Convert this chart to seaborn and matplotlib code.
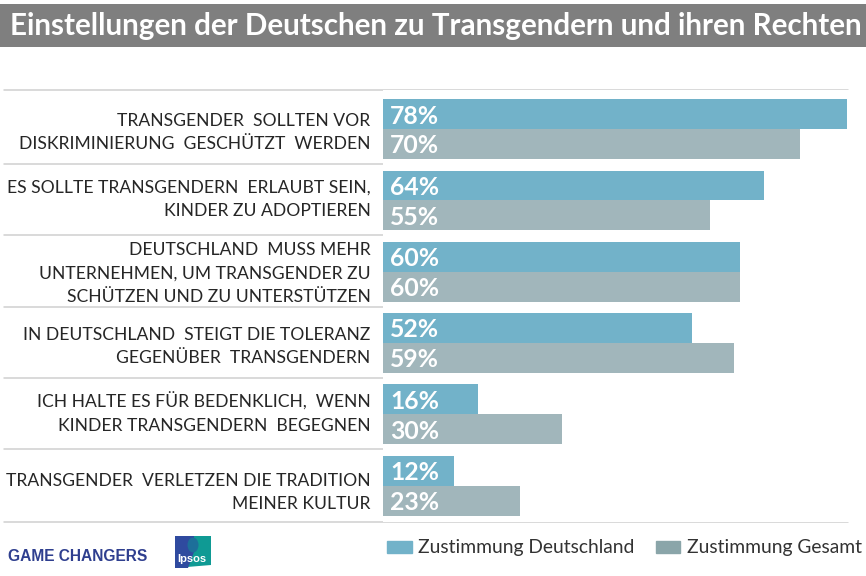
import matplotlib
matplotlib.use('Agg')
import matplotlib.pyplot as plt
import pandas as pd
import seaborn as sns
from matplotlib.patches import Ellipse, Patch, Polygon, Rectangle
from matplotlib.transforms import ScaledTranslation

W, H = 866, 576

title = 'Einstellungen der Deutschen zu Transgendern und ihren Rechten'
statements = [
    'TRANSGENDER  SOLLTEN VOR\nDISKRIMINIERUNG  GESCHÜTZT  WERDEN',
    'ES SOLLTE TRANSGENDERN  ERLAUBT SEIN,\nKINDER ZU ADOPTIEREN',
    'DEUTSCHLAND  MUSS MEHR\nUNTERNEHMEN, UM TRANSGENDER ZU\nSCHÜTZEN UND ZU UNTERSTÜTZEN',
    'IN DEUTSCHLAND  STEIGT DIE TOLERANZ\nGEGENÜBER  TRANSGENDERN',
    'ICH HALTE ES FÜR BEDENKLICH,  WENN\nKINDER TRANSGENDERN  BEGEGNEN',
    'TRANSGENDER  VERLETZEN DIE TRADITION\nMEINER KULTUR',
]
deutschland = [78, 64, 60, 52, 16, 12]
gesamt = [70, 55, 60, 59, 30, 23]
series_names = ['Zustimmung Deutschland', 'Zustimmung Gesamt']

BLUE = '#72b2c9'
GREY = '#a1b6bb'
GREY_LEGEND = '#8aa5a9'
FONT = 'Lato'

df = pd.DataFrame({'statement': statements, series_names[0]: deutschland, series_names[1]: gesamt})
long_df = df.melt(id_vars='statement', var_name='series', value_name='pct')

sns.set_theme(style='white')
plt.rcParams['font.family'] = FONT

fig = plt.figure(figsize=(W / 100, H / 100), dpi=100)

# axes placed in pixels of the reference
top_px, bottom_px = 90, 522
ax = fig.add_axes([383 / W, 1 - bottom_px / H, (W - 383) / W, (bottom_px - top_px) / H])
sns.barplot(data=long_df, y='statement', x='pct', hue='series', hue_order=series_names,
            palette=[BLUE, GREY], width=0.84, gap=0, dodge=True, legend=False, saturation=1,
            linewidth=0, edgecolor='none', ax=ax)
ax.set_xlim(0, (W - 383) / 5.95)
ax.set_ylim(5.51, -0.55)
ax.set_xlabel('')
ax.set_ylabel('')
ax.set_xticks([])
ax.tick_params(axis='y', length=0, pad=9)
# labels do not sit quite centred on the rows in the original (pixels, up is positive)
label_shift = [1.5, 6.5, 3.5, 1.5, 6.5, -1.5]
for lab, shift in zip(ax.get_yticklabels(), label_shift):
    lab.set_fontsize(12.6)
    lab.set_color('#262626')
    lab.set_linespacing(1.55)
    lab.set_ha('right')
    lab.set_transform(lab.get_transform() + ScaledTranslation(0, shift / 100, fig.dpi_scale_trans))
sns.despine(ax=ax, left=True, bottom=True)

for cont in ax.containers:
    for bar in cont:
        ax.text(1.2, bar.get_y() + bar.get_height() / 2 + 0.025, f'{bar.get_width():.0f}%',
                color='white', fontsize=17.8, fontweight='bold', va='center', ha='left')

# grey separators run across the labels as well
for i in range(len(statements) + 1):
    y = i - 0.51 if 0 < i < len(statements) else (-0.55 if i == 0 else 5.51)
    y_fig = ax.transData.transform((0, y))[1] / H
    fig.add_artist(plt.Line2D([4 / W, 848 / W], [y_fig, y_fig], color='#cfcfcf', lw=1.1, zorder=0))

# title band
fig.add_artist(Rectangle((0, 1 - 46.5 / H), 1, 42.5 / H, transform=fig.transFigure, color='#7f7f7f', lw=0))
fig.text(10 / W, 1 - 26 / H, title, color='white', fontsize=21.35, fontweight='bold',
         va='center', ha='left')

# legend
handles = [Patch(color=BLUE, label=series_names[0]), Patch(color=GREY_LEGEND, label=series_names[1])]
fig.legend(handles=handles, loc='center right', bbox_to_anchor=(862 / W, 1 - 548 / H), ncols=2, frameon=False,
           fontsize=13.9, handlelength=1.25, handleheight=0.57, handletextpad=0.36, columnspacing=1.09,
           borderpad=0, borderaxespad=0, labelcolor='#333333')

# footer logos
fig.text(8 / W, 1 - 556.5 / H, 'GAME CHANGERS', color='#2f3f8f', fontsize=11.2, fontweight='bold',
         va='center', ha='left', family='Liberation Sans')
logo = fig.add_axes([175 / W, 1 - 568 / H, 36 / W, 32 / H])
logo.set_xlim(0, 36)
logo.set_ylim(32, 0)
logo.axis('off')
logo.add_patch(Polygon([(0, 0), (36, 0), (36, 29), (0, 32)], closed=True, color='#0f9a94', lw=0))
logo.add_patch(Polygon([(0, 0), (19, 0), (19, 16), (13, 32), (0, 32)], closed=True, color='#2f4a9f', lw=0))
logo.add_patch(Ellipse((18, 9), 11, 15, color='#1d6f9a', lw=0))
logo.text(2, 23.5, 'Ipsos', color='white', fontsize=8, fontweight='bold', va='center', ha='left',
          family='Liberation Sans')

fig.savefig('out.png', dpi=100)
